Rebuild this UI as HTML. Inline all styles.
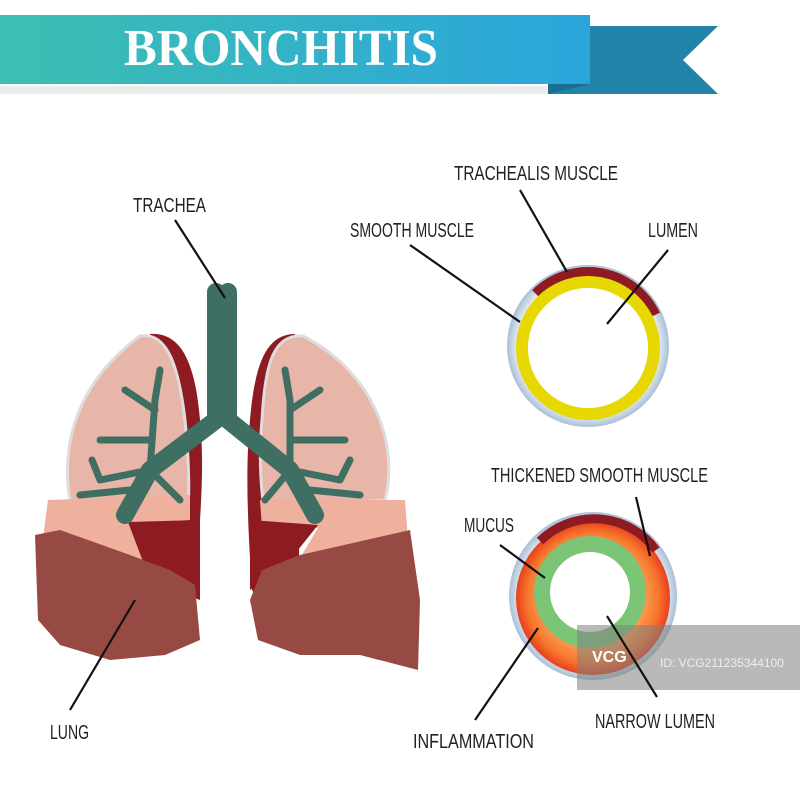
<!DOCTYPE html>
<html><head><meta charset="utf-8"><style>
body{margin:0;background:#fff}
svg text{font-family:"Liberation Sans",sans-serif;fill:#222}
</style></head><body>
<svg width="800" height="800" viewBox="0 0 800 800" xmlns="http://www.w3.org/2000/svg">
<defs>
<linearGradient id="rib" x1="0" x2="1"><stop offset="0" stop-color="#3dbfb1"/><stop offset="1" stop-color="#2aa5dc"/></linearGradient>
<radialGradient id="inf" cx="0.5" cy="0.5" r="0.5"><stop offset="0.55" stop-color="#ffb060"/><stop offset="0.85" stop-color="#f7772e"/><stop offset="1" stop-color="#e8401c"/></radialGradient>
<radialGradient id="wall" cx="0.5" cy="0.5" r="0.5"><stop offset="0.85" stop-color="#f0f4f8"/><stop offset="1" stop-color="#a9bfd6"/></radialGradient>
</defs>
<rect x="0" y="86" width="590" height="8" fill="#ececec"/>
<polygon points="548,26 718,26 683,60 718,94 548,94" fill="#2183a8"/>
<polygon points="548,84 590,84 548,94" fill="#1a6f90"/>
<rect x="0" y="15" width="590" height="69" fill="url(#rib)"/>
<text x="124" y="65" style="font-family:'Liberation Serif',serif;font-weight:bold;font-size:52px;fill:#fff" textLength="314" lengthAdjust="spacingAndGlyphs">BRONCHITIS</text>

<g>
<path d="M150,334 C180,332 195,360 200,420 C205,470 200,520 195,590 L170,630 L150,600 Z" fill="#8e1a22"/>
<path d="M140,336 C165,332 178,360 185,420 C190,470 190,520 185,510 L70,500 C60,440 80,380 140,336 Z" fill="#e8b6a8" stroke="#ddd" stroke-width="3"/>
<path d="M48,500 L190,495 L190,520 L130,525 L150,560 L40,560 Z" fill="#efb09e"/>
<path d="M128,522 L200,520 L200,600 L150,580 Z" fill="#8e1a22"/>
<path d="M35,535 L60,530 L130,555 L170,570 L195,585 L200,640 L165,655 L110,660 L60,645 L38,620 Z" fill="#974a44"/>
<path d="M295,334 C268,334 255,360 250,420 C245,470 248,530 252,590 L275,630 L300,600 Z" fill="#8e1a22"/>
<path d="M303,336 C275,334 265,360 262,420 C258,460 262,500 265,510 L385,500 C400,440 370,370 303,336 Z" fill="#e8b6a8" stroke="#ddd" stroke-width="3"/>
<path d="M260,500 L405,500 L408,540 L300,558 L318,528 L262,528 Z" fill="#efb09e"/>
<path d="M250,520 L318,525 L290,560 L250,590 Z" fill="#8e1a22"/>
<path d="M410,530 L300,555 L262,570 L250,600 L258,640 L300,655 L360,655 L418,670 L420,600 Z" fill="#974a44"/>
<g fill="none" stroke="#3f6e63" stroke-linecap="round" stroke-linejoin="round">
<path d="M216,292 L216,420 L150,470 L125,515" stroke-width="18"/>
<path d="M228,292 L228,420 L290,470 L315,515" stroke-width="18"/>
<path d="M150,470 L100,480 M150,470 L155,400 L160,370 M150,440 L100,440 M130,490 L80,495 M155,410 L125,390 M100,480 L92,460 M150,470 L180,500" stroke-width="7"/>
<path d="M290,470 L340,480 M290,470 L290,400 L285,370 M290,440 L345,440 M310,490 L360,495 M290,410 L320,390 M340,480 L350,460 M290,470 L265,500" stroke-width="7"/>
</g>
<rect x="207" y="292" width="30" height="130" fill="#3f6e63"/>
</g>
<circle cx="588" cy="346" r="81" fill="url(#wall)"/>
<path d="M536,294 A74,74 0 0 1 655,315" fill="none" stroke="#8e1a22" stroke-width="11"/>
<circle cx="588" cy="348" r="66" fill="none" stroke="#e6d800" stroke-width="12"/>
<circle cx="588" cy="348" r="60" fill="#fff"/>
<circle cx="593" cy="596" r="84" fill="url(#wall)"/>
<circle cx="593" cy="598" r="77" fill="url(#inf)"/>
<path d="M540,541 A77,77 0 0 1 656,550" fill="none" stroke="#8e1a22" stroke-width="9"/>
<circle cx="590" cy="592" r="48" fill="#fff" stroke="#7cc576" stroke-width="16"/>

<rect x="577" y="625" width="223" height="65" fill="#808080" opacity="0.55"/>
<text x="592" y="662" style="font-weight:bold;font-size:16px;fill:#fff">VCG</text>
<text x="660" y="667" style="font-size:12px;fill:#eee">ID: VCG211235344100</text>

<g stroke="#111" stroke-width="2.2">
<line x1="175" y1="220" x2="225" y2="298"/>
<line x1="70" y1="710" x2="135" y2="600"/>
<line x1="520" y1="190" x2="567" y2="272"/>
<line x1="410" y1="245" x2="520" y2="322"/>
<line x1="668" y1="250" x2="607" y2="324"/>
<line x1="636" y1="497" x2="650" y2="556"/>
<line x1="500" y1="545" x2="545" y2="578"/>
<line x1="475" y1="720" x2="538" y2="628"/>
<line x1="657" y1="697" x2="607" y2="616"/>
</g>
<g style="font-size:20px">
<text x="133" y="212" textLength="73" lengthAdjust="spacingAndGlyphs">TRACHEA</text>
<text x="50" y="739" textLength="39" lengthAdjust="spacingAndGlyphs">LUNG</text>
<text x="454" y="180" textLength="164" lengthAdjust="spacingAndGlyphs">TRACHEALIS MUSCLE</text>
<text x="350" y="237" textLength="124" lengthAdjust="spacingAndGlyphs">SMOOTH MUSCLE</text>
<text x="648" y="237" textLength="50" lengthAdjust="spacingAndGlyphs">LUMEN</text>
<text x="491" y="482" textLength="217" lengthAdjust="spacingAndGlyphs">THICKENED SMOOTH MUSCLE</text>
<text x="464" y="532" textLength="50" lengthAdjust="spacingAndGlyphs">MUCUS</text>
<text x="413" y="748" textLength="121" lengthAdjust="spacingAndGlyphs">INFLAMMATION</text>
<text x="595" y="728" textLength="120" lengthAdjust="spacingAndGlyphs">NARROW LUMEN</text>
</g>
</svg>
</body></html>
